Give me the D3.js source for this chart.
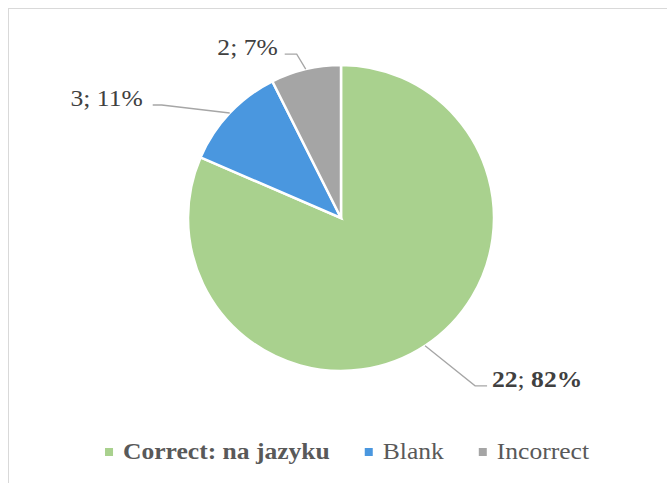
<!DOCTYPE html>
<html>
<head>
<meta charset="utf-8">
<script src="https://cdn.jsdelivr.net/npm/d3@7"></script>
<style>
  body { margin: 0; background: #fff; }
  svg { display: block; }
</style>
</head>
<body>
<svg id="chart" width="667" height="483"></svg>
<script>
// chart data
var categories = ["Correct: na jazyku", "Blank", "Incorrect"];
var counts = [22, 3, 2];
var percents = ["82%", "11%", "7%"];
var colors = ["#a9d18e", "#4a97df", "#a5a5a5"];

var width = 667, height = 483;
var cx = 341, cy = 218, radius = 153;
var serif = "'Liberation Serif'";
var stretch = 1.065; // reference text is slightly wider than Liberation Serif

var svg = d3.select("#chart");

// frame
svg.append("rect")
  .attr("x", 8.5).attr("y", 8.5)
  .attr("width", width).attr("height", height)
  .attr("fill", "none")
  .attr("stroke", "#d9d9d9");

var pieData = categories.map(function(c, i) {
  return { name: c, count: counts[i], pct: percents[i], color: colors[i], idx: i };
});

var pie = d3.pie().value(function(d) { return d.count; }).sort(null);
var arc = d3.arc().innerRadius(0).outerRadius(radius);

var g = svg.append("g").attr("transform", "translate(" + cx + "," + cy + ")");
var arcs = pie(pieData);

g.selectAll("path")
  .data(arcs)
  .enter()
  .append("path")
  .attr("d", arc)
  .attr("fill", function(d) { return d.data.color; })
  .attr("stroke", "#fff")
  .attr("stroke-width", 2.5)
  .attr("stroke-linejoin", "miter");

// label placement (offsets from slice edge point): elbow dx/dy, tail, text gap
var labelLayout = [
  { elbow: [50, 40], tail: 12, gap: 5, anchor: "start" },
  { elbow: [-68, -8], tail: -9, gap: -10, anchor: "end" },
  { elbow: [-9, -15], tail: -12, gap: -7, anchor: "end" }
];

arcs.forEach(function(d, i) {
  var a = (d.startAngle + d.endAngle) / 2;
  var p0 = [Math.sin(a) * radius, -Math.cos(a) * radius];
  var lay = labelLayout[i];
  var p1 = [p0[0] + lay.elbow[0], p0[1] + lay.elbow[1]];
  var p2 = [p1[0] + lay.tail, p1[1]];
  g.append("polyline")
    .attr("points", [p0, p1, p2].map(function(p) { return p.join(","); }).join(" "))
    .attr("fill", "none")
    .attr("stroke", "#a6a6a6")
    .attr("stroke-width", 1.3);
  var tx = p2[0] + lay.gap;
  var t = g.append("g")
    .attr("transform", "translate(" + tx + "," + (p2[1] + 1) + ") scale(" + stretch + ",1)")
    .append("text")
    .attr("text-anchor", lay.anchor)
    .style("font-family", serif)
    .style("font-size", "24px")
    .attr("fill", "#404040");
  var bold = i === 0 ? "bold" : "normal";
  t.append("tspan").style("font-weight", bold).text(d.data.count);
  t.append("tspan").text("; ");
  t.append("tspan").style("font-weight", bold).text(d.data.pct);
});

// legend
var legend = svg.append("g").attr("transform", "translate(0,459)");
var items = legend.selectAll("g.item")
  .data(pieData)
  .enter()
  .append("g")
  .attr("class", "item");

items.append("rect")
  .attr("width", 8).attr("height", 8)
  .attr("y", -11)
  .attr("fill", function(d) { return d.color; });

items.append("g")
  .attr("transform", "translate(18,0) scale(" + stretch + ",1)")
  .append("text")
  .style("font-family", serif)
  .style("font-size", "24px")
  .style("font-weight", function(d, i) { return i === 0 ? "bold" : "normal"; })
  .attr("fill", "#595959")
  .text(function(d) { return d.name; });

var gap = 35;
var widths = [];
items.each(function() {
  var tw = d3.select(this).select("text").node().getComputedTextLength() * stretch;
  widths.push(18 + tw);
});
var total = d3.sum(widths) + gap * (widths.length - 1);
var x = 347 - total / 2;
items.attr("transform", function(d, i) {
  var pos = x;
  x += widths[i] + gap;
  return "translate(" + pos + ",0)";
});
</script>
</body>
</html>
